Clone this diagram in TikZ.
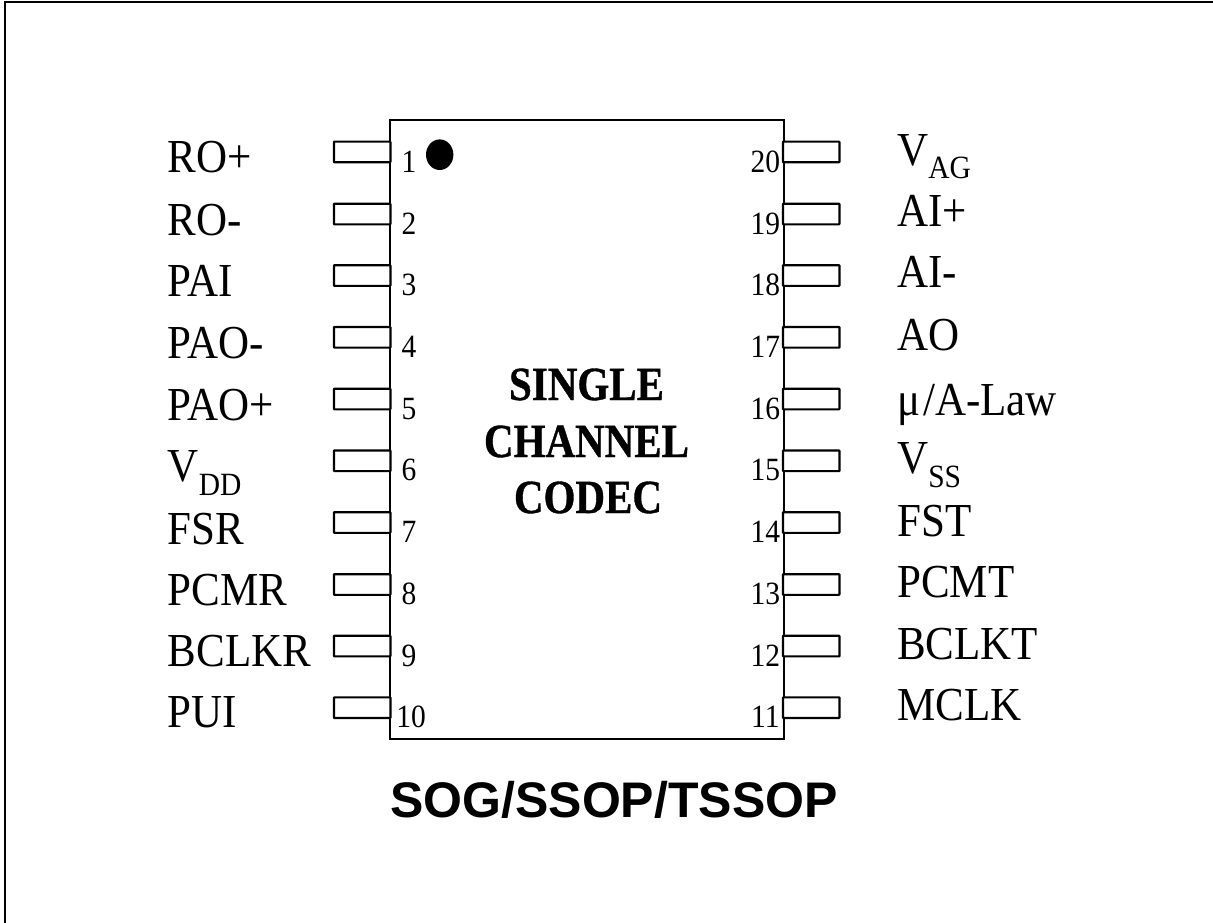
\documentclass[tikz,border=0pt]{standalone}
\usepackage{fontspec}
\setmainfont{Liberation Serif}
\newfontfamily\arialf{Liberation Sans}
\newfontfamily\corefont[BoldFeatures={FakeBold=0.8}]{Liberation Serif}
\newcommand{\tallbox}[2]{\scalebox{1}[#1]{#2}}
\newcommand{\subsc}[1]{\rlap{\raisebox{-12.7pt}{\fontsize{29.5}{30}\selectfont #1}}}
\tikzset{
  x=1pt,y=-1pt,
  outline/.style={draw=black,line width=2.1pt,line join=miter},
  pinbox/.style={draw=black,line width=2.1pt,fill=white,rounded corners=0.5pt,rectangle,inner sep=0pt,minimum width=56.5pt,minimum height=20.6pt},
  siglabel/.style={anchor=base west,inner sep=0pt,font=\fontsize{43}{43}\selectfont},
  numlabel/.style={anchor=base,inner sep=0pt,font=\fontsize{29.5}{30}\selectfont},
  corelabel/.style={anchor=base,inner sep=0pt,font=\corefont\fontsize{41}{41}\selectfont\bfseries},
}
\newcommand{\lpin}[5]{% y, number, numx, label, label baseline
  \node[pinbox] (pin#2) at (362.2,#1) {};
  \node[numlabel] (num#2) at (#3,#1+20) {\tallbox{1.1}{#2}};
  \node[siglabel] (sig#2) at (167.5,#5) {\tallbox{1.1}{#4}};
}
\newcommand{\rpin}[4]{% y, number, label, label baseline
  \node[pinbox] (pin#2) at (811.2,#1) {};
  \node[numlabel] (num#2) at (765.3,#1+20) {\tallbox{1.1}{#2}};
  \node[siglabel] (sig#2) at (897,#4) {\tallbox{1.1}{#3}};
}
\begin{document}
\begin{tikzpicture}
\useasboundingbox (0,0) rectangle (1213,923);
\path[fill=white] (0,0) rectangle (1213,923);
\draw[outline] (5,923) -- (5,2) -- (1213,2);
\node[outline,rectangle,inner sep=0pt,minimum width=394pt,minimum height=619pt] (chip) at (586.7,429.5) {};
\fill (439.7,154.7) ellipse (13.7 and 15.3);
\lpin{152}{1}{409}{RO+}{172.7}
\lpin{214}{2}{409}{RO-}{235}
\lpin{275.5}{3}{409}{PAI}{296.3}
\lpin{337.3}{4}{409}{PAO-}{358.3}
\lpin{399}{5}{409}{PAO+}{420}
\lpin{460.8}{6}{409}{V\subsc{DD}}{481.7}
\lpin{522.5}{7}{409}{FSR}{544}
\lpin{584.5}{8}{409}{PCMR}{605}
\lpin{646}{9}{409}{BCLKR}{666.7}
\lpin{707.7}{10}{411}{PUI}{727.7}
\rpin{152}{20}{V\subsc{AG}}{165}
\rpin{214}{19}{AI+}{226.7}
\rpin{275.5}{18}{AI-}{287.7}
\rpin{337.3}{17}{AO}{350.7}
\rpin{399}{16}{μ\kern3pt/A-Law}{415}
\rpin{460.8}{15}{V\subsc{SS}}{473.3}
\rpin{522.5}{14}{FST}{536}
\rpin{584.5}{13}{PCMT}{597.3}
\rpin{646}{12}{BCLKT}{659.3}
\rpin{707.7}{11}{MCLK}{720.7}
\node[corelabel] (l1) at (586.5,400) {\tallbox{1.16}{SINGLE}};
\node[corelabel] (l2) at (586.5,457) {\tallbox{1.16}{CHANNEL}};
\node[corelabel] (l3) at (588,513) {\tallbox{1.16}{CODEC}};
\node[anchor=base,inner sep=0pt,font=\arialf\bfseries\fontsize{50}{50}\selectfont] (title) at (614,817) {SOG/SSOP/TSSOP};
\end{tikzpicture}
\end{document}
